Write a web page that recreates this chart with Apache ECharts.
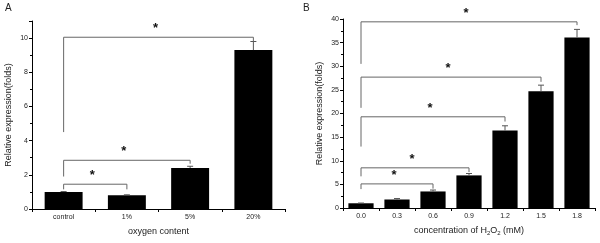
<!DOCTYPE html>
<html>
<head>
<meta charset="utf-8">
<script src="https://cdn.jsdelivr.net/npm/echarts@6/dist/echarts.min.js"></script>
<style>
  html, body { margin: 0; padding: 0; background: #fff; }
  #chart { width: 600px; height: 243px; }
</style>
</head>
<body>
<div id="chart"></div>
<script>
// panel A: oxygen content
var oxyCats = ['control', '1%', '5%', '20%'];
var oxyVals = [1.0, 0.8, 2.4, 9.3];
var oxyErr = [0.02, 0.03, 0.1, 0.5];
// [from, to, top, leftEnd, rightEnd]
var oxyBrackets = [
  [0, 1, 1.45, 1.15, 1.15],
  [0, 2, 2.85, 1.9, 2.65],
  [0, 3, 10.05, 4.5, 9.8]
];

// panel B: H2O2 concentration
var h2o2Cats = ['0.0', '0.3', '0.6', '0.9', '1.2', '1.5', '1.8'];
var h2o2Vals = [1.0, 1.8, 3.5, 6.9, 16.4, 24.7, 36.1];
var h2o2Err = [0.05, 0.2, 0.3, 0.4, 1.0, 1.3, 1.7];
var h2o2Brackets = [
  [0, 2, 5.1, 4.0, 4.1],
  [0, 3, 8.5, 6.7, 7.6],
  [0, 4, 19.3, 13.0, 18.3],
  [0, 5, 27.7, 21.2, 26.7],
  [0, 6, 39.4, 30.5, 38.7]
];

var font = 'Liberation Sans, Arial, sans-serif';
var txtColor = '#222';

function errRender(params, api) {
  var top = api.coord([api.value(0), api.value(1) + api.value(2)]);
  var base = api.coord([api.value(0), api.value(1)]);
  var cap = 3;
  return {
    type: 'group',
    children: [
      { type: 'line', shape: { x1: base[0], y1: base[1], x2: top[0], y2: top[1] },
        style: { stroke: '#555', lineWidth: 1 } },
      { type: 'line', shape: { x1: top[0] - cap, y1: top[1], x2: top[0] + cap, y2: top[1] },
        style: { stroke: '#555', lineWidth: 1 } }
    ]
  };
}

function bracketRender(params, api) {
  var a = api.value(0), b = api.value(1);
  var pL = api.coord([a, api.value(3)]);
  var pLT = api.coord([a, api.value(2)]);
  var pRT = api.coord([b, api.value(2)]);
  var pR = api.coord([b, api.value(4)]);
  return {
    type: 'group',
    children: [
      { type: 'polyline', shape: { points: [pL, pLT, pRT, pR] },
        style: { stroke: '#666', lineWidth: 1, fill: null } },
      { type: 'text', x: (pLT[0] + pRT[0]) / 2 - 3, y: pLT[1] - 2,
        style: { text: '*', fontSize: 13, fontWeight: 'bold', fill: '#111',
                 font: 'bold 13px ' + font, textAlign: 'center', textVerticalAlign: 'bottom' } }
    ]
  };
}

function catAxis(idx, cats, name) {
  return {
    type: 'category', gridIndex: idx, data: cats,
    name: name, nameLocation: 'middle', nameGap: 18,
    nameTextStyle: { fontSize: 9, color: txtColor, fontFamily: font, rich: {
      sub: { fontSize: 6, verticalAlign: 'bottom', padding: [4, 0, 0, 0], color: txtColor, fontFamily: font }
    } },
    axisLine: { lineStyle: { color: '#000', width: 1 } },
    axisTick: { show: true, inside: false, length: 3, lineStyle: { color: '#000' } },
    axisLabel: { fontSize: 7, color: txtColor, fontFamily: font, margin: 5 },
    splitLine: { show: false }
  };
}

function valAxis(idx, max, interval, showMax) {
  return {
    type: 'value', gridIndex: idx, min: 0, max: max, interval: interval,
    name: 'Relative expression(folds)', nameLocation: 'middle', nameGap: 19,
    nameTextStyle: { fontSize: 9, color: txtColor, fontFamily: font },
    axisLine: { show: true, lineStyle: { color: '#000', width: 1 } },
    axisTick: { show: true, length: 3, lineStyle: { color: '#000' } },
    minorTick: { show: true, splitNumber: 2, length: 2, lineStyle: { color: '#000' } },
    axisLabel: { fontSize: 7, color: txtColor, fontFamily: font, margin: 4, showMaxLabel: showMax },
    splitLine: { show: false }
  };
}

var chart = echarts.init(document.getElementById('chart'));
chart.setOption({
  animation: false,
  backgroundColor: '#fff',
  graphic: [
    { type: 'text', left: 5, top: 3, style: { text: 'A', font: '10px ' + font, fill: txtColor } },
    { type: 'text', left: 303, top: 3, style: { text: 'B', font: '10px ' + font, fill: txtColor } }
  ],
  grid: [
    { left: 32, right: 315, top: 21, bottom: 34 },
    { left: 343, right: 5, top: 19, bottom: 35 }
  ],
  xAxis: [
    catAxis(0, oxyCats, 'oxygen content'),
    catAxis(1, h2o2Cats, 'concentration of H{sub|2}O{sub|2} (mM)')
  ],
  yAxis: [
    valAxis(0, 11, 2, false),
    valAxis(1, 40, 5, true)
  ],
  series: [
    { type: 'bar', xAxisIndex: 0, yAxisIndex: 0, data: oxyVals, barWidth: '60%',
      itemStyle: { color: '#000' } },
    { type: 'custom', xAxisIndex: 0, yAxisIndex: 0, renderItem: errRender,
      data: oxyVals.map(function (v, i) { return [i, v, oxyErr[i]]; }), z: 3 },
    { type: 'custom', xAxisIndex: 0, yAxisIndex: 0, renderItem: bracketRender,
      encode: { x: 0, y: 2 }, data: oxyBrackets, z: 4 },
    { type: 'bar', xAxisIndex: 1, yAxisIndex: 1, data: h2o2Vals, barWidth: '70%',
      itemStyle: { color: '#000' } },
    { type: 'custom', xAxisIndex: 1, yAxisIndex: 1, renderItem: errRender,
      data: h2o2Vals.map(function (v, i) { return [i, v, h2o2Err[i]]; }), z: 3 },
    { type: 'custom', xAxisIndex: 1, yAxisIndex: 1, renderItem: bracketRender,
      encode: { x: 0, y: 2 }, data: h2o2Brackets, z: 4 }
  ]
});
</script>
</body>
</html>
